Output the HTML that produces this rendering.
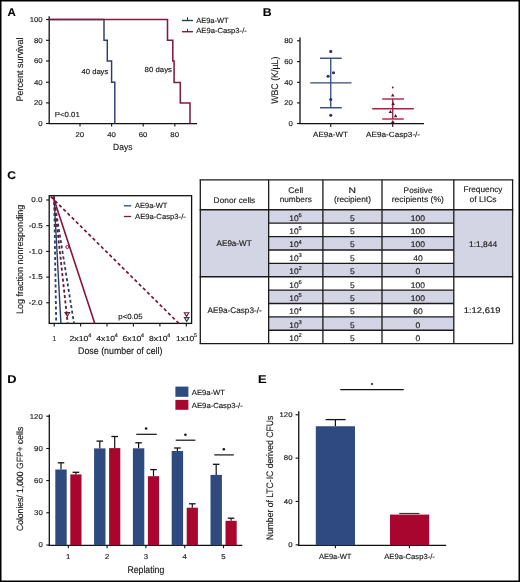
<!DOCTYPE html>
<html><head><meta charset="utf-8"><title>Figure</title>
<style>
html,body{margin:0;padding:0;background:#fff;}
svg{display:block;will-change:transform;}
text{font-family:"Liberation Sans", sans-serif;stroke:#1a1a1a;stroke-width:0.15px;}
</style></head>
<body>
<svg width="520" height="582" viewBox="0 0 520 582" font-family='"Liberation Sans", sans-serif' fill="#1a1a1a" text-rendering="geometricPrecision">
<g>
<text x="7.41" y="15.7" font-size="11.2" font-weight="bold" textLength="8.3" lengthAdjust="spacingAndGlyphs" fill="#000">A</text>
<line x1="49.2" y1="16.2" x2="49.2" y2="124.1" stroke="#111" stroke-width="1.3"/>
<line x1="48.6" y1="123.6" x2="197" y2="123.6" stroke="#111" stroke-width="1.3"/>
<line x1="46" y1="19.5" x2="49.2" y2="19.5" stroke="#111" stroke-width="1.1"/>
<text x="29.67" y="21.9" font-size="7.1" textLength="13.03" lengthAdjust="spacingAndGlyphs">100</text>
<line x1="46" y1="40.3" x2="49.2" y2="40.3" stroke="#111" stroke-width="1.1"/>
<text x="34" y="42.7" font-size="7.1" textLength="8.69" lengthAdjust="spacingAndGlyphs">80</text>
<line x1="46" y1="61" x2="49.2" y2="61" stroke="#111" stroke-width="1.1"/>
<text x="34" y="63.4" font-size="7.1" textLength="8.69" lengthAdjust="spacingAndGlyphs">60</text>
<line x1="46" y1="82.2" x2="49.2" y2="82.2" stroke="#111" stroke-width="1.1"/>
<text x="34" y="84.6" font-size="7.1" textLength="8.69" lengthAdjust="spacingAndGlyphs">40</text>
<line x1="46" y1="102.9" x2="49.2" y2="102.9" stroke="#111" stroke-width="1.1"/>
<text x="34" y="105.3" font-size="7.1" textLength="8.69" lengthAdjust="spacingAndGlyphs">20</text>
<line x1="46" y1="123.5" x2="49.2" y2="123.5" stroke="#111" stroke-width="1.1"/>
<text x="38.34" y="125.9" font-size="7.1" textLength="4.34" lengthAdjust="spacingAndGlyphs">0</text>
<line x1="80" y1="123.6" x2="80" y2="126.6" stroke="#111" stroke-width="1.1"/>
<text x="75.51" y="137.2" font-size="7.1" textLength="8.69" lengthAdjust="spacingAndGlyphs">20</text>
<line x1="111.6" y1="123.6" x2="111.6" y2="126.6" stroke="#111" stroke-width="1.1"/>
<text x="107.22" y="137.2" font-size="7.1" textLength="8.69" lengthAdjust="spacingAndGlyphs">40</text>
<line x1="143.2" y1="123.6" x2="143.2" y2="126.6" stroke="#111" stroke-width="1.1"/>
<text x="138.71" y="137.2" font-size="7.1" textLength="8.69" lengthAdjust="spacingAndGlyphs">60</text>
<line x1="174.8" y1="123.6" x2="174.8" y2="126.6" stroke="#111" stroke-width="1.1"/>
<text x="170.33" y="137.2" font-size="7.1" textLength="8.69" lengthAdjust="spacingAndGlyphs">80</text>
<polyline points="49.2,19.5 104,19.5 104,40.3 107.3,40.3 107.3,61 111.6,61 111.6,82.3 114.8,82.3 114.8,123.5" fill="none" stroke="#283f6e" stroke-width="1.45" stroke-linejoin="miter"/>
<polyline points="49.2,19.5 167.5,19.5 167.5,40.3 172.8,40.3 172.8,61 174.1,61 174.1,82.4 180.3,82.4 180.3,102.9 190,102.9 190,123.5" fill="none" stroke="#861a3c" stroke-width="1.55" stroke-linejoin="miter"/>
<line x1="182" y1="20.5" x2="193" y2="20.5" stroke="#24405a" stroke-width="1.4"/>
<line x1="187.5" y1="17.2" x2="187.5" y2="20.5" stroke="#21384f" stroke-width="1"/>
<line x1="182" y1="31.7" x2="193" y2="31.7" stroke="#861a3c" stroke-width="1.4"/>
<line x1="187.5" y1="28.8" x2="187.5" y2="31.7" stroke="#861a3c" stroke-width="1"/>
<text x="196.2" y="22.6" font-size="7.4" textLength="32.44" lengthAdjust="spacingAndGlyphs">AE9a-WT</text>
<text x="196.2" y="33.4" font-size="7.4" textLength="50.64" lengthAdjust="spacingAndGlyphs">AE9a-Casp3-/-</text>
<text x="81.55" y="73.7" font-size="7.3" textLength="26.7" lengthAdjust="spacingAndGlyphs">40 days</text>
<text x="144.55" y="72.2" font-size="7.3" textLength="27.41" lengthAdjust="spacingAndGlyphs">80 days</text>
<text x="54.77" y="116.7" font-size="7.3" textLength="25" lengthAdjust="spacingAndGlyphs">P&lt;0.01</text>
<text x="113.07" y="149.5" font-size="9.1" textLength="19.31" lengthAdjust="spacingAndGlyphs">Days</text>
<text x="23" y="101.42" font-size="9.6" textLength="63.84" lengthAdjust="spacingAndGlyphs" transform="rotate(-90 23 101.42)">Percent survival</text>
<text x="262.7" y="16" font-size="11.2" font-weight="bold" textLength="8.88" lengthAdjust="spacingAndGlyphs" fill="#000">B</text>
<line x1="300" y1="37.5" x2="300" y2="124.1" stroke="#111" stroke-width="1.3"/>
<line x1="299.4" y1="123.6" x2="424" y2="123.6" stroke="#111" stroke-width="1.3"/>
<line x1="297" y1="40.8" x2="300" y2="40.8" stroke="#111" stroke-width="1.1"/>
<text x="284.2" y="43.2" font-size="7.1" textLength="8.69" lengthAdjust="spacingAndGlyphs">80</text>
<line x1="297" y1="61.6" x2="300" y2="61.6" stroke="#111" stroke-width="1.1"/>
<text x="284.2" y="64" font-size="7.1" textLength="8.69" lengthAdjust="spacingAndGlyphs">60</text>
<line x1="297" y1="82.3" x2="300" y2="82.3" stroke="#111" stroke-width="1.1"/>
<text x="284.2" y="84.7" font-size="7.1" textLength="8.69" lengthAdjust="spacingAndGlyphs">40</text>
<line x1="297" y1="102.9" x2="300" y2="102.9" stroke="#111" stroke-width="1.1"/>
<text x="284.2" y="105.3" font-size="7.1" textLength="8.69" lengthAdjust="spacingAndGlyphs">20</text>
<line x1="297" y1="123.5" x2="300" y2="123.5" stroke="#111" stroke-width="1.1"/>
<text x="288.54" y="125.9" font-size="7.1" textLength="4.34" lengthAdjust="spacingAndGlyphs">0</text>
<line x1="330.75" y1="123.6" x2="330.75" y2="126.9" stroke="#111" stroke-width="1.1"/>
<line x1="392.75" y1="123.6" x2="392.75" y2="126.9" stroke="#111" stroke-width="1.1"/>
<text x="313.1" y="137.2" font-size="7.6" textLength="34.8" lengthAdjust="spacingAndGlyphs">AE9a-WT</text>
<text x="366" y="136.9" font-size="7.6" textLength="54.11" lengthAdjust="spacingAndGlyphs">AE9a-Casp3-/-</text>
<text x="278.5" y="103.84" font-size="9.6" textLength="47.21" lengthAdjust="spacingAndGlyphs" transform="rotate(-90 278.5 103.84)">WBC (K/µL)</text>
<line x1="330.75" y1="58.25" x2="330.75" y2="107.75" stroke="#33487a" stroke-width="1.3"/>
<line x1="320" y1="58.25" x2="341.7" y2="58.25" stroke="#33487a" stroke-width="1.4"/>
<line x1="310.2" y1="82.9" x2="351.5" y2="82.9" stroke="#33487a" stroke-width="1.4"/>
<line x1="320" y1="107.75" x2="341.8" y2="107.75" stroke="#33487a" stroke-width="1.4"/>
<rect x="329.35" y="50.1" width="2.8" height="2.8" fill="#26365e"/>
<circle cx="328.1" cy="76.3" r="1.55" fill="#26365e"/>
<circle cx="333.5" cy="72.8" r="1.55" fill="#26365e"/>
<circle cx="330.75" cy="99.5" r="1.55" fill="#26365e"/>
<circle cx="330.75" cy="115.2" r="1.55" fill="#26365e"/>
<line x1="392.75" y1="99" x2="392.75" y2="119" stroke="#8e1a3c" stroke-width="1.3"/>
<line x1="382.2" y1="99" x2="404" y2="99" stroke="#b31c46" stroke-width="1.4"/>
<line x1="372.2" y1="108.75" x2="413.8" y2="108.75" stroke="#b31c46" stroke-width="1.4"/>
<line x1="382.2" y1="119" x2="403.8" y2="119" stroke="#b31c46" stroke-width="1.4"/>
<circle cx="392.75" cy="87.5" r="0.9" fill="#4a1a26"/>
<polygon points="390.95,96.62 394.55,96.62 392.75,93.38" fill="#4a1a26"/>
<polygon points="391.3,105.12 394.9,105.12 393.1,101.88" fill="#4a1a26"/>
<polygon points="388.6,113.12 392.2,113.12 390.4,109.88" fill="#4a1a26"/>
<polygon points="393.8,117.22 397.4,117.22 395.6,113.98" fill="#4a1a26"/>
<polygon points="390.95,123.12 394.55,123.12 392.75,119.88" fill="#4a1a26"/>
<text x="7.27" y="179" font-size="11.2" font-weight="bold" textLength="8.66" lengthAdjust="spacingAndGlyphs" fill="#000">C</text>
<rect x="49.2" y="195.7" width="142.4" height="127.7" fill="none" stroke="#111" stroke-width="1.3"/>
<line x1="46.2" y1="200" x2="49.2" y2="200" stroke="#111" stroke-width="1.1"/>
<text x="31.37" y="202.2" font-size="7.2" textLength="11.21" lengthAdjust="spacingAndGlyphs">0.0</text>
<line x1="46.2" y1="225.7" x2="49.2" y2="225.7" stroke="#111" stroke-width="1.1"/>
<text x="28.75" y="227.9" font-size="7.2" textLength="13.9" lengthAdjust="spacingAndGlyphs">-0.5</text>
<line x1="46.2" y1="251.4" x2="49.2" y2="251.4" stroke="#111" stroke-width="1.1"/>
<text x="28.71" y="253.6" font-size="7.2" textLength="13.9" lengthAdjust="spacingAndGlyphs">-1.0</text>
<line x1="46.2" y1="277.1" x2="49.2" y2="277.1" stroke="#111" stroke-width="1.1"/>
<text x="28.75" y="279.3" font-size="7.2" textLength="13.9" lengthAdjust="spacingAndGlyphs">-1.5</text>
<line x1="46.2" y1="302.8" x2="49.2" y2="302.8" stroke="#111" stroke-width="1.1"/>
<text x="28.71" y="305" font-size="7.2" textLength="13.9" lengthAdjust="spacingAndGlyphs">-2.0</text>
<line x1="54.2" y1="323.4" x2="54.2" y2="326.6" stroke="#111" stroke-width="1.1"/>
<line x1="80.6" y1="323.4" x2="80.6" y2="326.6" stroke="#111" stroke-width="1.1"/>
<line x1="107" y1="323.4" x2="107" y2="326.6" stroke="#111" stroke-width="1.1"/>
<line x1="133.4" y1="323.4" x2="133.4" y2="326.6" stroke="#111" stroke-width="1.1"/>
<line x1="159.9" y1="323.4" x2="159.9" y2="326.6" stroke="#111" stroke-width="1.1"/>
<line x1="186.3" y1="323.4" x2="186.3" y2="326.6" stroke="#111" stroke-width="1.1"/>
<text x="52.52" y="340.7" font-size="7.3" textLength="3.58" lengthAdjust="spacingAndGlyphs">1</text>
<text x="69.46" y="340.7" font-size="7.3" textLength="18.97" lengthAdjust="spacingAndGlyphs">2x10</text>
<text x="88.15" y="337.1" font-size="5.4">4</text>
<text x="96.33" y="340.7" font-size="7.3" textLength="18.6" lengthAdjust="spacingAndGlyphs">4x10</text>
<text x="114.65" y="337.1" font-size="5.4">4</text>
<text x="122.57" y="340.7" font-size="7.3" textLength="18.77" lengthAdjust="spacingAndGlyphs">6x10</text>
<text x="141.05" y="337.1" font-size="5.4">4</text>
<text x="149.02" y="340.7" font-size="7.3" textLength="18.51" lengthAdjust="spacingAndGlyphs">8x10</text>
<text x="167.25" y="337.1" font-size="5.4">4</text>
<text x="175.96" y="340.7" font-size="7.3" textLength="18.36" lengthAdjust="spacingAndGlyphs">1x10</text>
<text x="194.05" y="337.1" font-size="5.4">5</text>
<line x1="54.02" y1="196.6" x2="60.9" y2="323.4" stroke="#2c3f6c" stroke-width="1.4"/>
<line x1="54.14" y1="196.6" x2="56.2" y2="323.4" stroke="#2c3e5e" stroke-width="1.8" stroke-dasharray="3,2.5"/>
<line x1="53.65" y1="196.6" x2="74" y2="323.4" stroke="#2c3e5e" stroke-width="1.8" stroke-dasharray="3,2.5"/>
<line x1="53.83" y1="196.6" x2="67.7" y2="323.4" stroke="#6e1430" stroke-width="1.8" stroke-dasharray="3,2.5"/>
<line x1="53.08" y1="196.6" x2="94.8" y2="323.4" stroke="#861538" stroke-width="1.6"/>
<line x1="50.77" y1="196.6" x2="178.8" y2="323.4" stroke="#751433" stroke-width="1.7" stroke-dasharray="3.3,2.6"/>
<circle cx="67.3" cy="247" r="1.5" fill="none" stroke="#861a3c" stroke-width="1"/>
<polygon points="65,312.46 69.6,312.46 67.3,316.14" fill="none" stroke="#6e1a35" stroke-width="1.1"/>
<polygon points="184.3,312.76 188.9,312.76 186.6,316.44" fill="none" stroke="#6e1a35" stroke-width="1.1"/>
<polygon points="184.4,317.66 189,317.66 186.7,321.34" fill="none" stroke="#2c3e50" stroke-width="1.1"/>
<line x1="123.9" y1="205.8" x2="131.2" y2="205.8" stroke="#2e4a78" stroke-width="1.3"/>
<line x1="123.9" y1="216.5" x2="131.2" y2="216.5" stroke="#861a3c" stroke-width="1.3"/>
<text x="135" y="208.1" font-size="7.4" textLength="32.44" lengthAdjust="spacingAndGlyphs">AE9a-WT</text>
<text x="135" y="218.8" font-size="7.4" textLength="50.84" lengthAdjust="spacingAndGlyphs">AE9a-Casp3-/-</text>
<text x="118.29" y="318.5" font-size="7.4" textLength="24.24" lengthAdjust="spacingAndGlyphs">p&lt;0.05</text>
<text x="23.2" y="314.02" font-size="9.4" textLength="109.21" lengthAdjust="spacingAndGlyphs" transform="rotate(-90 23.2 314.02)">Log fraction nonresponding</text>
<text x="78.09" y="353.5" font-size="9.6" textLength="84.37" lengthAdjust="spacingAndGlyphs">Dose (number of cell)</text>
<rect x="200.3" y="209.8" width="68.35" height="66.93" fill="#d3d4e4"/>
<rect x="453.8" y="209.8" width="58.8" height="66.93" fill="#d3d4e4"/>
<rect x="268.65" y="209.8" width="185.15" height="13.38" fill="#d3d4e4"/>
<rect x="268.65" y="236.57" width="185.15" height="13.38" fill="#d3d4e4"/>
<rect x="268.65" y="263.34" width="185.15" height="13.38" fill="#d3d4e4"/>
<rect x="268.65" y="290.11" width="185.15" height="13.38" fill="#d3d4e4"/>
<rect x="268.65" y="316.88" width="185.15" height="13.38" fill="#d3d4e4"/>
<line x1="200.3" y1="179.8" x2="200.3" y2="343.65" stroke="#1a1a1a" stroke-width="1.3"/>
<line x1="268.65" y1="179.8" x2="268.65" y2="343.65" stroke="#1a1a1a" stroke-width="1.3"/>
<line x1="322.9" y1="179.8" x2="322.9" y2="343.65" stroke="#1a1a1a" stroke-width="1.3"/>
<line x1="382" y1="179.8" x2="382" y2="343.65" stroke="#1a1a1a" stroke-width="1.3"/>
<line x1="453.8" y1="179.8" x2="453.8" y2="343.65" stroke="#1a1a1a" stroke-width="1.3"/>
<line x1="512.6" y1="179.8" x2="512.6" y2="343.65" stroke="#1a1a1a" stroke-width="1.3"/>
<line x1="199.65" y1="179.8" x2="513.25" y2="179.8" stroke="#1a1a1a" stroke-width="1.3"/>
<line x1="199.65" y1="209.8" x2="513.25" y2="209.8" stroke="#1a1a1a" stroke-width="1.5"/>
<line x1="268.65" y1="223.19" x2="453.8" y2="223.19" stroke="#1a1a1a" stroke-width="1.35"/>
<line x1="268.65" y1="236.57" x2="453.8" y2="236.57" stroke="#1a1a1a" stroke-width="1.35"/>
<line x1="268.65" y1="249.95" x2="453.8" y2="249.95" stroke="#1a1a1a" stroke-width="1.35"/>
<line x1="268.65" y1="263.34" x2="453.8" y2="263.34" stroke="#1a1a1a" stroke-width="1.35"/>
<line x1="199.65" y1="276.73" x2="513.25" y2="276.73" stroke="#1a1a1a" stroke-width="1.35"/>
<line x1="268.65" y1="290.11" x2="453.8" y2="290.11" stroke="#1a1a1a" stroke-width="1.35"/>
<line x1="268.65" y1="303.5" x2="453.8" y2="303.5" stroke="#1a1a1a" stroke-width="1.35"/>
<line x1="268.65" y1="316.88" x2="453.8" y2="316.88" stroke="#1a1a1a" stroke-width="1.35"/>
<line x1="268.65" y1="330.26" x2="453.8" y2="330.26" stroke="#1a1a1a" stroke-width="1.35"/>
<line x1="199.65" y1="343.65" x2="513.25" y2="343.65" stroke="#1a1a1a" stroke-width="1.35"/>
<text x="213.63" y="202.5" font-size="8.1" textLength="41.68" lengthAdjust="spacingAndGlyphs">Donor cells</text>
<text x="288.37" y="192.7" font-size="8.1" textLength="14.92" lengthAdjust="spacingAndGlyphs">Cell</text>
<text x="279.66" y="202.3" font-size="8.1" textLength="32.13" lengthAdjust="spacingAndGlyphs">numbers</text>
<text x="348.57" y="192.9" font-size="8.1" textLength="7.48" lengthAdjust="spacingAndGlyphs">N</text>
<text x="333.9" y="202.3" font-size="8.1" textLength="37.01" lengthAdjust="spacingAndGlyphs">(recipient)</text>
<text x="403.64" y="192.6" font-size="8.1" textLength="28.95" lengthAdjust="spacingAndGlyphs">Positive</text>
<text x="391.75" y="202.4" font-size="8.1" textLength="52.09" lengthAdjust="spacingAndGlyphs">recipients (%)</text>
<text x="463.44" y="192.2" font-size="8.1" textLength="39.06" lengthAdjust="spacingAndGlyphs">Frequency</text>
<text x="469.56" y="202.25" font-size="8.1" textLength="27.12" lengthAdjust="spacingAndGlyphs">of LICs</text>
<text x="216.6" y="246.2" font-size="8.1" textLength="35.05" lengthAdjust="spacingAndGlyphs">AE9a-WT</text>
<text x="207.5" y="312.7" font-size="8.1" textLength="54.21" lengthAdjust="spacingAndGlyphs">AE9a-Casp3-/-</text>
<text x="468.97" y="246.6" font-size="8.1" textLength="28.2" lengthAdjust="spacingAndGlyphs">1:1,844</text>
<text x="463.69" y="312.85" font-size="8.1" textLength="36.76" lengthAdjust="spacingAndGlyphs">1:12,619</text>
<text x="289.37" y="220.6" font-size="8.1" textLength="9.34" lengthAdjust="spacingAndGlyphs">10</text>
<text x="298.6" y="216.9" font-size="5.8">6</text>
<text x="349.94" y="220.6" font-size="8.1" textLength="4.73" lengthAdjust="spacingAndGlyphs">5</text>
<text x="410.7" y="220.6" font-size="8.1" textLength="14.19" lengthAdjust="spacingAndGlyphs">100</text>
<text x="289.37" y="233.99" font-size="8.1" textLength="9.34" lengthAdjust="spacingAndGlyphs">10</text>
<text x="298.6" y="230.29" font-size="5.8">5</text>
<text x="349.94" y="233.99" font-size="8.1" textLength="4.73" lengthAdjust="spacingAndGlyphs">5</text>
<text x="410.7" y="233.99" font-size="8.1" textLength="14.19" lengthAdjust="spacingAndGlyphs">100</text>
<text x="289.37" y="247.37" font-size="8.1" textLength="9.34" lengthAdjust="spacingAndGlyphs">10</text>
<text x="298.6" y="243.67" font-size="5.8">4</text>
<text x="349.94" y="247.37" font-size="8.1" textLength="4.73" lengthAdjust="spacingAndGlyphs">5</text>
<text x="410.7" y="247.37" font-size="8.1" textLength="14.19" lengthAdjust="spacingAndGlyphs">100</text>
<text x="289.37" y="260.75" font-size="8.1" textLength="9.34" lengthAdjust="spacingAndGlyphs">10</text>
<text x="298.6" y="257.06" font-size="5.8">3</text>
<text x="349.94" y="260.75" font-size="8.1" textLength="4.73" lengthAdjust="spacingAndGlyphs">5</text>
<text x="413.29" y="260.75" font-size="8.1" textLength="9.46" lengthAdjust="spacingAndGlyphs">40</text>
<text x="289.37" y="274.14" font-size="8.1" textLength="9.34" lengthAdjust="spacingAndGlyphs">10</text>
<text x="298.6" y="270.44" font-size="5.8">2</text>
<text x="349.94" y="274.14" font-size="8.1" textLength="4.73" lengthAdjust="spacingAndGlyphs">5</text>
<text x="415.57" y="274.14" font-size="8.1" textLength="4.73" lengthAdjust="spacingAndGlyphs">0</text>
<text x="289.37" y="287.53" font-size="8.1" textLength="9.34" lengthAdjust="spacingAndGlyphs">10</text>
<text x="298.6" y="283.83" font-size="5.8">6</text>
<text x="349.94" y="287.53" font-size="8.1" textLength="4.73" lengthAdjust="spacingAndGlyphs">5</text>
<text x="410.7" y="287.53" font-size="8.1" textLength="14.19" lengthAdjust="spacingAndGlyphs">100</text>
<text x="289.37" y="300.91" font-size="8.1" textLength="9.34" lengthAdjust="spacingAndGlyphs">10</text>
<text x="298.6" y="297.21" font-size="5.8">5</text>
<text x="349.94" y="300.91" font-size="8.1" textLength="4.73" lengthAdjust="spacingAndGlyphs">5</text>
<text x="410.7" y="300.91" font-size="8.1" textLength="14.19" lengthAdjust="spacingAndGlyphs">100</text>
<text x="289.37" y="314.3" font-size="8.1" textLength="9.34" lengthAdjust="spacingAndGlyphs">10</text>
<text x="298.6" y="310.6" font-size="5.8">4</text>
<text x="349.94" y="314.3" font-size="8.1" textLength="4.73" lengthAdjust="spacingAndGlyphs">5</text>
<text x="413.17" y="314.3" font-size="8.1" textLength="9.46" lengthAdjust="spacingAndGlyphs">60</text>
<text x="289.37" y="327.68" font-size="8.1" textLength="9.34" lengthAdjust="spacingAndGlyphs">10</text>
<text x="298.6" y="323.98" font-size="5.8">3</text>
<text x="349.94" y="327.68" font-size="8.1" textLength="4.73" lengthAdjust="spacingAndGlyphs">5</text>
<text x="415.57" y="327.68" font-size="8.1" textLength="4.73" lengthAdjust="spacingAndGlyphs">0</text>
<text x="289.37" y="341.06" font-size="8.1" textLength="9.34" lengthAdjust="spacingAndGlyphs">10</text>
<text x="298.6" y="337.37" font-size="5.8">2</text>
<text x="349.94" y="341.06" font-size="8.1" textLength="4.73" lengthAdjust="spacingAndGlyphs">5</text>
<text x="415.57" y="341.06" font-size="8.1" textLength="4.73" lengthAdjust="spacingAndGlyphs">0</text>
<text x="7.27" y="382.5" font-size="11.2" font-weight="bold" textLength="9.28" lengthAdjust="spacingAndGlyphs" fill="#000">D</text>
<line x1="49.3" y1="414.4" x2="49.3" y2="545.9" stroke="#111" stroke-width="1.3"/>
<line x1="48.7" y1="545.3" x2="242.3" y2="545.3" stroke="#111" stroke-width="1.3"/>
<line x1="46.3" y1="416.2" x2="49.3" y2="416.2" stroke="#111" stroke-width="1.1"/>
<text x="29.77" y="418.6" font-size="7.1" textLength="13.03" lengthAdjust="spacingAndGlyphs">120</text>
<line x1="46.3" y1="448.5" x2="49.3" y2="448.5" stroke="#111" stroke-width="1.1"/>
<text x="34.1" y="450.9" font-size="7.1" textLength="8.69" lengthAdjust="spacingAndGlyphs">90</text>
<line x1="46.3" y1="480.6" x2="49.3" y2="480.6" stroke="#111" stroke-width="1.1"/>
<text x="34.1" y="483" font-size="7.1" textLength="8.69" lengthAdjust="spacingAndGlyphs">60</text>
<line x1="46.3" y1="512.8" x2="49.3" y2="512.8" stroke="#111" stroke-width="1.1"/>
<text x="34.1" y="515.2" font-size="7.1" textLength="8.69" lengthAdjust="spacingAndGlyphs">30</text>
<line x1="46.3" y1="545" x2="49.3" y2="545" stroke="#111" stroke-width="1.1"/>
<text x="38.44" y="547.4" font-size="7.1" textLength="4.34" lengthAdjust="spacingAndGlyphs">0</text>
<line x1="61" y1="462.8" x2="61" y2="469.5" stroke="#111" stroke-width="1.2"/>
<line x1="57.7" y1="462.8" x2="64.3" y2="462.8" stroke="#111" stroke-width="1.3"/>
<line x1="75.9" y1="472.3" x2="75.9" y2="474.4" stroke="#111" stroke-width="1.2"/>
<line x1="72.6" y1="472.3" x2="79.2" y2="472.3" stroke="#111" stroke-width="1.3"/>
<rect x="55.3" y="469.5" width="11.4" height="75.8" fill="#2e4a7e"/>
<rect x="70.3" y="474.4" width="11.2" height="70.9" fill="#a9062f"/>
<line x1="68.3" y1="545.3" x2="68.3" y2="548.2" stroke="#111" stroke-width="1.1"/>
<text x="66.02" y="558.7" font-size="7.1" textLength="4.34" lengthAdjust="spacingAndGlyphs">1</text>
<line x1="99.8" y1="441.1" x2="99.8" y2="448.4" stroke="#111" stroke-width="1.2"/>
<line x1="96.5" y1="441.1" x2="103.1" y2="441.1" stroke="#111" stroke-width="1.3"/>
<line x1="114.7" y1="436.5" x2="114.7" y2="448.1" stroke="#111" stroke-width="1.2"/>
<line x1="111.4" y1="436.5" x2="118" y2="436.5" stroke="#111" stroke-width="1.3"/>
<rect x="94.1" y="448.4" width="11.4" height="96.9" fill="#2e4a7e"/>
<rect x="109.1" y="448.1" width="11.2" height="97.2" fill="#a9062f"/>
<line x1="107.1" y1="545.3" x2="107.1" y2="548.2" stroke="#111" stroke-width="1.1"/>
<text x="104.93" y="558.7" font-size="7.1" textLength="4.34" lengthAdjust="spacingAndGlyphs">2</text>
<line x1="138.6" y1="442.8" x2="138.6" y2="448.3" stroke="#111" stroke-width="1.2"/>
<line x1="135.3" y1="442.8" x2="141.9" y2="442.8" stroke="#111" stroke-width="1.3"/>
<line x1="153.5" y1="469.6" x2="153.5" y2="476.2" stroke="#111" stroke-width="1.2"/>
<line x1="150.2" y1="469.6" x2="156.8" y2="469.6" stroke="#111" stroke-width="1.3"/>
<rect x="132.9" y="448.3" width="11.4" height="97" fill="#2e4a7e"/>
<rect x="147.9" y="476.2" width="11.2" height="69.1" fill="#a9062f"/>
<line x1="145.9" y1="545.3" x2="145.9" y2="548.2" stroke="#111" stroke-width="1.1"/>
<text x="143.73" y="558.7" font-size="7.1" textLength="4.34" lengthAdjust="spacingAndGlyphs">3</text>
<line x1="177.4" y1="448" x2="177.4" y2="451" stroke="#111" stroke-width="1.2"/>
<line x1="174.1" y1="448" x2="180.7" y2="448" stroke="#111" stroke-width="1.3"/>
<line x1="192.3" y1="503.8" x2="192.3" y2="507.7" stroke="#111" stroke-width="1.2"/>
<line x1="189" y1="503.8" x2="195.6" y2="503.8" stroke="#111" stroke-width="1.3"/>
<rect x="171.7" y="451" width="11.4" height="94.3" fill="#2e4a7e"/>
<rect x="186.7" y="507.7" width="11.2" height="37.6" fill="#a9062f"/>
<line x1="184.7" y1="545.3" x2="184.7" y2="548.2" stroke="#111" stroke-width="1.1"/>
<text x="182.57" y="558.7" font-size="7.1" textLength="4.34" lengthAdjust="spacingAndGlyphs">4</text>
<line x1="216.2" y1="464.3" x2="216.2" y2="474.9" stroke="#111" stroke-width="1.2"/>
<line x1="212.9" y1="464.3" x2="219.5" y2="464.3" stroke="#111" stroke-width="1.3"/>
<line x1="231.1" y1="518.2" x2="231.1" y2="520.8" stroke="#111" stroke-width="1.2"/>
<line x1="227.8" y1="518.2" x2="234.4" y2="518.2" stroke="#111" stroke-width="1.3"/>
<rect x="210.5" y="474.9" width="11.4" height="70.4" fill="#2e4a7e"/>
<rect x="225.5" y="520.8" width="11.2" height="24.5" fill="#a9062f"/>
<line x1="223.5" y1="545.3" x2="223.5" y2="548.2" stroke="#111" stroke-width="1.1"/>
<text x="221.33" y="558.7" font-size="7.1" textLength="4.34" lengthAdjust="spacingAndGlyphs">5</text>
<line x1="136.3" y1="434.3" x2="156.8" y2="434.3" stroke="#111" stroke-width="1.2"/>
<circle cx="146.1" cy="428.6" r="1.25" fill="#111"/>
<line x1="175.7" y1="440.2" x2="195.4" y2="440.2" stroke="#111" stroke-width="1.2"/>
<circle cx="185.4" cy="434.7" r="1.25" fill="#111"/>
<line x1="214.3" y1="454.9" x2="233.8" y2="454.9" stroke="#111" stroke-width="1.2"/>
<circle cx="223.8" cy="449.2" r="1.25" fill="#111"/>
<rect x="175.4" y="386.6" width="13" height="10.2" fill="#2e4a7e"/>
<rect x="175.4" y="399.9" width="13" height="9.9" fill="#a9062f"/>
<text x="191.8" y="394.7" font-size="7.4" textLength="33.05" lengthAdjust="spacingAndGlyphs">AE9a-WT</text>
<text x="191.8" y="407.7" font-size="7.4" textLength="51.04" lengthAdjust="spacingAndGlyphs">AE9a-Casp3-/-</text>
<text x="127.4" y="572.5" font-size="9.9" textLength="36.92" lengthAdjust="spacingAndGlyphs">Replating</text>
<text x="22.7" y="531.03" font-size="9.1" textLength="104.23" lengthAdjust="spacingAndGlyphs" transform="rotate(-90 22.7 531.03)">Colonies/ 1,000 GFP+ cells</text>
<text x="257.92" y="382.75" font-size="11.2" font-weight="bold" textLength="8.56" lengthAdjust="spacingAndGlyphs" fill="#000">E</text>
<line x1="298.75" y1="411.3" x2="298.75" y2="545.9" stroke="#111" stroke-width="1.3"/>
<line x1="298.15" y1="545.3" x2="446.2" y2="545.3" stroke="#111" stroke-width="1.3"/>
<line x1="295.6" y1="414.8" x2="298.75" y2="414.8" stroke="#111" stroke-width="1.1"/>
<text x="279.56" y="417.1" font-size="6.8" textLength="12.93" lengthAdjust="spacingAndGlyphs">120</text>
<line x1="295.6" y1="458.1" x2="298.75" y2="458.1" stroke="#111" stroke-width="1.1"/>
<text x="283.87" y="460.4" font-size="6.8" textLength="8.62" lengthAdjust="spacingAndGlyphs">80</text>
<line x1="295.6" y1="501.4" x2="298.75" y2="501.4" stroke="#111" stroke-width="1.1"/>
<text x="283.87" y="503.7" font-size="6.8" textLength="8.62" lengthAdjust="spacingAndGlyphs">40</text>
<line x1="295.6" y1="544.9" x2="298.75" y2="544.9" stroke="#111" stroke-width="1.1"/>
<text x="288.17" y="547.2" font-size="6.8" textLength="4.31" lengthAdjust="spacingAndGlyphs">0</text>
<line x1="335.4" y1="419.6" x2="335.4" y2="426.3" stroke="#111" stroke-width="1.2"/>
<line x1="325.6" y1="419.6" x2="345.6" y2="419.6" stroke="#111" stroke-width="1.3"/>
<rect x="315.8" y="426.25" width="39.2" height="119.05" fill="#2e4a7e"/>
<line x1="399.2" y1="513.5" x2="419.5" y2="513.5" stroke="#333" stroke-width="1.2"/>
<rect x="390" y="514.6" width="39.2" height="30.7" fill="#a9062f"/>
<line x1="335.4" y1="545.3" x2="335.4" y2="548.3" stroke="#111" stroke-width="1.1"/>
<line x1="409.4" y1="545.3" x2="409.4" y2="548.3" stroke="#111" stroke-width="1.1"/>
<line x1="340.25" y1="389.6" x2="403.75" y2="389.6" stroke="#111" stroke-width="1.2"/>
<circle cx="372" cy="384" r="1.0" fill="#111"/>
<text x="318.9" y="558.8" font-size="7.4" textLength="32.54" lengthAdjust="spacingAndGlyphs">AE9a-WT</text>
<text x="384.2" y="558.5" font-size="7.4" textLength="50.74" lengthAdjust="spacingAndGlyphs">AE9a-Casp3-/-</text>
<text x="273.1" y="540.29" font-size="9.4" textLength="124.49" lengthAdjust="spacingAndGlyphs" transform="rotate(-90 273.1 540.29)">Number of LTC-IC derived CFUs</text>
<rect x="0.75" y="0.75" width="518.5" height="580.5" fill="none" stroke="#000" stroke-width="1.5"/>
</g>
</svg>
</body></html>
